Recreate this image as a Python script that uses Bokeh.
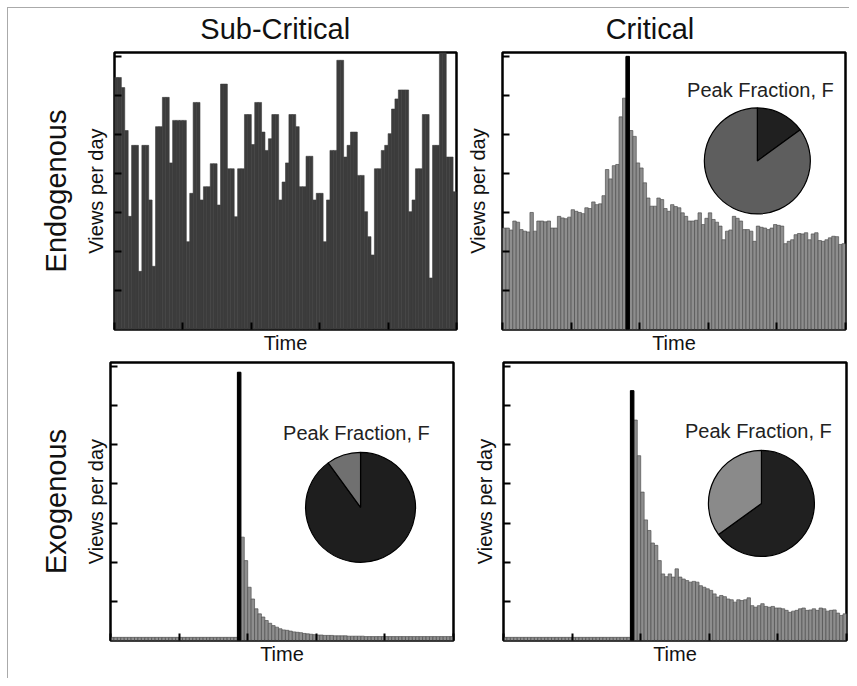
from math import pi
from bokeh.plotting import figure
from bokeh.layouts import row, column
from bokeh.models import Range1d, FixedTicker, LinearAxis, ColumnDataSource
from bokeh.core.properties import value
from bokeh.embed import file_html
from bokeh.resources import INLINE

FONT = "Liberation Sans"

# ---------------- data ----------------
days = list(range(100))

# Endogenous / Sub-Critical
tl_views = [6.46, 6.46, 6.20, 5.10, 2.90, 4.72, 4.72, 1.49, 4.72, 4.72,
            3.32, 1.62, 5.20, 5.20, 5.95, 5.95, 4.27, 5.36, 5.36, 5.36,
            5.36, 2.25, 3.49, 5.82, 5.82, 3.32, 3.66, 3.66, 4.25, 4.25,
            3.19, 6.29, 6.29, 4.12, 4.12, 2.89, 4.12, 4.12, 5.51, 5.51,
            4.74, 5.82, 5.82, 5.06, 4.59, 4.89, 5.51, 5.51, 3.32, 3.78,
            4.27, 5.51, 5.51, 5.20, 3.66, 3.66, 4.44, 4.44, 3.32, 3.49,
            3.49, 2.25, 3.32, 4.59, 4.59, 6.90, 6.90, 4.42, 4.72, 5.06,
            5.06, 3.95, 3.95, 3.02, 2.38, 1.91, 4.12, 4.12, 4.59, 4.72,
            5.02, 5.65, 5.91, 6.14, 6.14, 6.14, 3.02, 3.32, 4.12, 4.12,
            5.51, 5.51, 1.32, 4.72, 4.72, 7.10, 7.10, 4.42, 4.42, 3.53]

# Endogenous / Critical
tr_views = [2.60, 2.60, 2.55, 2.78, 2.75, 2.56, 2.52, 2.50, 3.00, 2.52,
            2.78, 2.78, 2.76, 2.78, 2.60, 2.60, 2.90, 2.86, 2.84, 2.88,
            3.07, 3.03, 3.00, 2.97, 3.12, 3.10, 3.27, 3.20, 3.22, 3.43,
            4.10, 3.86, 4.20, 4.23, 5.45, 5.93, 7.00, 5.10, 4.95, 4.27,
            4.14, 3.76, 3.37, 3.16, 3.16, 3.37, 3.33, 3.10, 3.03, 3.20,
            3.15, 3.12, 2.99, 2.90, 2.78, 2.78, 2.80, 2.99, 2.69, 2.85,
            2.99, 2.82, 2.75, 2.65, 2.30, 2.52, 2.55, 2.90, 2.85, 2.78,
            2.56, 2.56, 2.52, 2.26, 2.65, 2.62, 2.60, 2.56, 2.60, 2.69,
            2.67, 2.65, 2.20, 2.26, 2.30, 2.43, 2.46, 2.45, 2.48, 2.30,
            2.45, 2.48, 2.28, 2.26, 2.30, 2.35, 2.39, 2.38, 2.18, 2.20]

# Exogenous / Sub-Critical
bl_views = [0.08, 0.08, 0.08, 0.08, 0.08, 0.08, 0.08, 0.08, 0.08, 0.08,
            0.08, 0.08, 0.08, 0.08, 0.08, 0.08, 0.08, 0.08, 0.08, 0.08,
            0.08, 0.08, 0.08, 0.08, 0.08, 0.08, 0.08, 0.08, 0.08, 0.08,
            0.08, 0.08, 0.08, 0.08, 0.08, 0.08, 0.08, 6.85, 2.64, 2.04,
            1.36, 1.06, 0.81, 0.68, 0.60, 0.51, 0.44, 0.38, 0.34, 0.30,
            0.27, 0.26, 0.24, 0.22, 0.21, 0.20, 0.18, 0.17, 0.16, 0.15,
            0.14, 0.14, 0.13, 0.13, 0.13, 0.12, 0.12, 0.12, 0.12, 0.11,
            0.11, 0.11, 0.11, 0.11, 0.10, 0.10, 0.10, 0.10, 0.10, 0.10,
            0.10, 0.10, 0.10, 0.10, 0.10, 0.10, 0.10, 0.10, 0.10, 0.10,
            0.10, 0.10, 0.10, 0.10, 0.10, 0.10, 0.10, 0.10, 0.10, 0.10]

# Exogenous / Critical
br_views = [0.08, 0.08, 0.08, 0.08, 0.08, 0.08, 0.08, 0.08, 0.08, 0.08,
            0.08, 0.08, 0.08, 0.08, 0.08, 0.08, 0.08, 0.08, 0.08, 0.08,
            0.08, 0.08, 0.08, 0.08, 0.08, 0.08, 0.08, 0.08, 0.08, 0.08,
            0.08, 0.08, 0.08, 0.08, 0.08, 0.08, 0.08, 6.38, 5.63, 4.72,
            3.79, 3.08, 2.81, 2.49, 2.43, 2.04, 1.70, 1.63, 1.70, 1.62,
            1.83, 1.62, 1.57, 1.53, 1.49, 1.51, 1.49, 1.40, 1.36, 1.32,
            1.28, 1.19, 1.11, 1.15, 1.12, 1.06, 1.04, 0.98, 1.04, 1.02,
            1.04, 1.09, 0.89, 0.85, 0.89, 0.94, 0.87, 0.85, 0.87, 0.83,
            0.83, 0.81, 0.77, 0.72, 0.75, 0.77, 0.81, 0.83, 0.77, 0.78,
            0.81, 0.77, 0.83, 0.81, 0.75, 0.77, 0.78, 0.70, 0.64, 0.68]

tr_peak_day = 36
bl_peak_day = 37
br_peak_day = 37

# Peak fraction F (dark, clockwise from 12 o'clock) and the remainder
tr_pie = [0.15, 0.85]
bl_pie = [0.90, 0.10]
br_pie = [0.65, 0.35]

col_titles = ["Sub-Critical", "Critical"]
row_titles = ["Endogenous", "Exogenous"]
x_label = "Time"
y_label = "Views per day"
pie_label = "Peak Fraction, F"
x_ticks = [0, 20, 40, 60, 80, 100]
y_ticks = [1, 2, 3, 4, 5, 6, 7]


def make_panel(vals, w, h, bl, br, bt, bb, fill, line, lw,
               peak=None, title=None, title_x=50, title_standoff=8,
               row_label=None, row_standoff=10, ylab_standoff=6, xlab_standoff=2,
               pie=None, pie_xy=None, pie_r=53, pie_colors=None, text_xy=None):
    p = figure(width=w, height=h, x_range=Range1d(0, 100), y_range=Range1d(0, 7.1),
               output_backend="svg", toolbar_location=None,
               min_border_left=bl, min_border_right=br, min_border_top=bt, min_border_bottom=bb,
               background_fill_color="white", border_fill_color="white")
    p.grid.visible = False
    p.outline_line_color = "black"
    p.outline_line_width = 2.5
    src = ColumnDataSource(dict(x=[d + 0.5 for d in days], top=vals))
    p.vbar(x="x", top="top", bottom=0, width=1, source=src,
           fill_color=fill, line_color=line, line_width=lw)
    if peak is not None:
        p.vbar(x=[days[peak] + 0.5], top=[vals[peak]], bottom=0, width=1,
               fill_color="black", line_color="black", line_width=1)
    for ax in (p.xaxis[0], p.yaxis[0]):
        ax.major_tick_in = 7
        ax.major_tick_out = 0
        ax.minor_tick_in = 0
        ax.minor_tick_out = 0
        ax.major_tick_line_width = 2
        ax.major_tick_line_color = "black"
        ax.axis_line_color = None
        ax.major_label_text_font_size = "0px"
        ax.major_label_text_color = None
        ax.major_label_standoff = 0
        ax.axis_label_text_font = FONT
        ax.axis_label_text_font_size = "20px"
        ax.axis_label_text_font_style = "normal"
        ax.axis_label_text_color = "#111111"
    p.xaxis.ticker = FixedTicker(ticks=x_ticks)
    p.yaxis.ticker = FixedTicker(ticks=y_ticks)
    p.xaxis.axis_label = x_label
    p.yaxis.axis_label = y_label
    p.xaxis.axis_label_standoff = xlab_standoff
    p.yaxis.axis_label_standoff = ylab_standoff
    if row_label is not None:
        ax2 = LinearAxis(axis_label=row_label, ticker=FixedTicker(ticks=[]),
                         axis_line_color=None, major_tick_in=0, major_tick_out=0,
                         minor_tick_in=0, minor_tick_out=0,
                         major_label_text_font_size="0px", major_label_text_color=None,
                         major_label_standoff=0,
                         axis_label_text_font=FONT, axis_label_text_font_size="29px",
                         axis_label_text_font_style="normal", axis_label_text_color="#111111",
                         axis_label_standoff=row_standoff)
        p.add_layout(ax2, "left")
    if title is not None:
        # column heading drawn as the single tick label of an axis above the frame
        tax = LinearAxis(ticker=FixedTicker(ticks=[title_x]),
                         major_label_overrides={title_x: title},
                         axis_line_color=None, major_tick_in=0, major_tick_out=0,
                         minor_tick_in=0, minor_tick_out=0,
                         major_label_text_font=FONT, major_label_text_font_size="29px",
                         major_label_text_color="#111111",
                         major_label_standoff=title_standoff)
        p.add_layout(tax, "above")
    if pie is not None:
        start = pi / 2
        for frac, col in zip(pie, pie_colors):
            end = start - 2 * pi * frac
            p.wedge(x=[pie_xy[0]], y=[pie_xy[1]], radius=pie_r, radius_units="screen",
                    start_angle=[start], end_angle=[end], direction="clock",
                    fill_color=col, line_color="black", line_width=1.2)
            start = end
        p.text(x=[text_xy[0]], y=[text_xy[1]], text=[pie_label],
               text_font=value(FONT), text_font_size="20px",
               text_align="center", text_baseline="middle", text_color="#222222")
    return p


GREY_FILL = "#8e8e8e"
GREY_LINE = "#505050"

tl = make_panel(tl_views, 455, 348, 106, 7, 44, 26, "#3c3c3c", "#3c3c3c", 0.6,
                title=col_titles[0], title_x=47, row_label=row_titles[0],
                ylab_standoff=8, row_standoff=10)
tr = make_panel(tr_views, 386, 348, 39, 4, 44, 26, GREY_FILL, GREY_LINE, 0.7,
                peak=tr_peak_day, title=col_titles[1], title_x=43, ylab_standoff=14,
                pie=tr_pie, pie_xy=(74.3, 4.32), pie_r=53,
                pie_colors=["#202020", "#5e5e5e"], text_xy=(75.2, 6.13))
bl = make_panel(bl_views, 455, 322, 102, 10, 6, 38, GREY_FILL, GREY_LINE, 0.7,
                peak=bl_peak_day, row_label=row_titles[1], ylab_standoff=4, row_standoff=10,
                pie=bl_pie, pie_xy=(72.9, 3.40), pie_r=55,
                pie_colors=["#1e1e1e", "#707070"], text_xy=(71.7, 5.31))
br = make_panel(br_views, 386, 322, 40, 3, 6, 38, GREY_FILL, GREY_LINE, 0.7,
                peak=br_peak_day, ylab_standoff=8,
                pie=br_pie, pie_xy=(75.2, 3.50), pie_r=53,
                pie_colors=["#202020", "#8a8a8a"], text_xy=(74.3, 5.36))

layout = column(row(tl, tr, spacing=0), row(bl, br, spacing=0), spacing=0,
                styles={"margin-left": "7px", "margin-top": "7px",
                        "border-top": "1px solid #aaaaaa", "border-left": "1px solid #aaaaaa"})

open("out.html", "w").write(file_html(layout, INLINE))
